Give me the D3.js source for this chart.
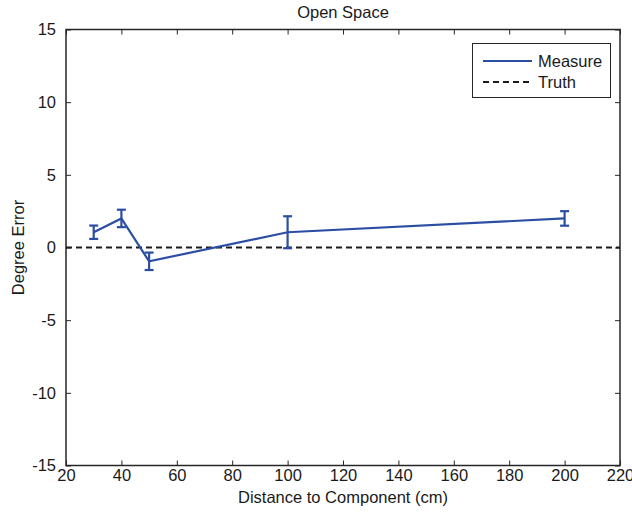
<!DOCTYPE html>
<html>
<head>
<meta charset="utf-8">
<script src="https://cdn.jsdelivr.net/npm/d3@7"></script>
<style>
  html, body { margin: 0; padding: 0; background: #fff; }
  svg { display: block; font-family: "Liberation Sans", Arial, sans-serif; }
</style>
</head>
<body>
<svg id="chart" width="632" height="515"></svg>
<script>
const distances = [30, 40, 50, 100, 200];
const measureValues = [1.05, 2.0, -0.95, 1.05, 2.0];
const measureErrors = [0.46, 0.6, 0.6, 1.1, 0.5];
const truthValues = [0, 0];
const truthX = [20, 220];
const xTicks = [20, 40, 60, 80, 100, 120, 140, 160, 180, 200, 220];
const yTicks = [-15, -10, -5, 0, 5, 10, 15];
const title = "Open Space";
const xLabel = "Distance to Component (cm)";
const yLabel = "Degree Error";
const legendLabels = ["Measure", "Truth"];

const svg = d3.select("#chart");
const margin = { left: 66, right: 12, top: 29.5, bottom: 49.5 };
const W = 632, H = 515;
const x = d3.scaleLinear().domain([20, 220]).range([margin.left, W - margin.right]);
const y = d3.scaleLinear().domain([-15, 15]).range([H - margin.bottom, margin.top]);
const axisColor = "#262626";
const blue = "#2b4ea3";
const fs = 16.5;
const fmt = d => String(d);

// box
svg.append("rect")
  .attr("x", x(20)).attr("y", y(15))
  .attr("width", x(220) - x(20)).attr("height", y(-15) - y(15))
  .attr("fill", "none").attr("stroke", axisColor).attr("stroke-width", 1.5);

// axes with inward ticks
const xAxisB = d3.axisBottom(x).tickValues(xTicks).tickSizeInner(-5).tickSizeOuter(0).tickPadding(8).tickFormat(fmt);
const gxb = svg.append("g").attr("transform", `translate(0,${y(-15)})`).call(xAxisB);
const xAxisT = d3.axisTop(x).tickValues(xTicks).tickSizeInner(-5).tickSizeOuter(0).tickFormat("");
const gxt = svg.append("g").attr("transform", `translate(0,${y(15)})`).call(xAxisT);
const yAxisL = d3.axisLeft(y).tickValues(yTicks).tickSizeInner(-5).tickSizeOuter(0).tickPadding(10).tickFormat(fmt);
const gyl = svg.append("g").attr("transform", `translate(${x(20)},0)`).call(yAxisL);
const yAxisR = d3.axisRight(y).tickValues(yTicks).tickSizeInner(-5).tickSizeOuter(0).tickFormat("");
const gyr = svg.append("g").attr("transform", `translate(${x(220)},0)`).call(yAxisR);
[gxb, gxt, gyl, gyr].forEach(g => {
  g.select(".domain").remove();
  g.selectAll(".tick line").attr("stroke", axisColor).attr("stroke-width", 1);
  g.selectAll(".tick text").attr("fill", "#1a1a1a").style("font-size", fs + "px")
    .style("font-family", "'Liberation Sans', Arial, sans-serif");
});
gxb.selectAll(".tick text").attr("dy", "0.45em");

// truth line
svg.append("path")
  .datum(truthX.map((d, i) => [d, truthValues[i]]))
  .attr("d", d3.line().x(d => x(d[0])).y(d => y(d[1])))
  .attr("fill", "none").attr("stroke", "#1a1a1a").attr("stroke-width", 2)
  .attr("stroke-dasharray", "6,4");

// measure line
const pts = distances.map((d, i) => ({ x: d, v: measureValues[i], e: measureErrors[i] }));
svg.append("path")
  .datum(pts)
  .attr("d", d3.line().x(d => x(d.x)).y(d => y(d.v)))
  .attr("fill", "none").attr("stroke", blue).attr("stroke-width", 2.2);

// error bars
const eb = svg.append("g").attr("stroke", blue).attr("stroke-width", 2.2).attr("fill", "none");
pts.forEach(p => {
  const cx = x(p.x), t = y(p.v + p.e), b = y(p.v - p.e), hw = 4.5;
  eb.append("line").attr("x1", cx).attr("x2", cx).attr("y1", t).attr("y2", b);
  eb.append("line").attr("x1", cx - hw).attr("x2", cx + hw).attr("y1", t).attr("y2", t);
  eb.append("line").attr("x1", cx - hw).attr("x2", cx + hw).attr("y1", b).attr("y2", b);
});

// title and labels
svg.append("text").attr("x", (x(20) + x(220)) / 2).attr("y", 18)
  .attr("text-anchor", "middle").style("font-size", fs + "px").attr("fill", "#1a1a1a").text(title);
svg.append("text").attr("x", (x(20) + x(220)) / 2).attr("y", 503)
  .attr("text-anchor", "middle").style("font-size", fs + "px").attr("fill", "#1a1a1a").text(xLabel);
svg.append("text").attr("transform", `translate(24,${(y(-15) + y(15)) / 2}) rotate(-90)`)
  .attr("text-anchor", "middle").style("font-size", fs + "px").attr("fill", "#1a1a1a").text(yLabel);

// legend
const lg = svg.append("g");
lg.append("rect").attr("x", 472.5).attr("y", 43.5).attr("width", 138).attr("height", 54)
  .attr("fill", "#fff").attr("stroke", axisColor).attr("stroke-width", 1);
const legendStyles = [
  { stroke: blue, dash: null },
  { stroke: "#1a1a1a", dash: "6,4" }
];
legendLabels.forEach((lab, i) => {
  const ly = 61 + i * 21;
  lg.append("line").attr("x1", 483).attr("x2", 532).attr("y1", ly).attr("y2", ly)
    .attr("stroke", legendStyles[i].stroke).attr("stroke-width", 2)
    .attr("stroke-dasharray", legendStyles[i].dash);
  lg.append("text").attr("x", 538).attr("y", ly + 5.5).style("font-size", fs + "px")
    .attr("fill", "#1a1a1a").text(lab);
});
</script>
</body>
</html>
